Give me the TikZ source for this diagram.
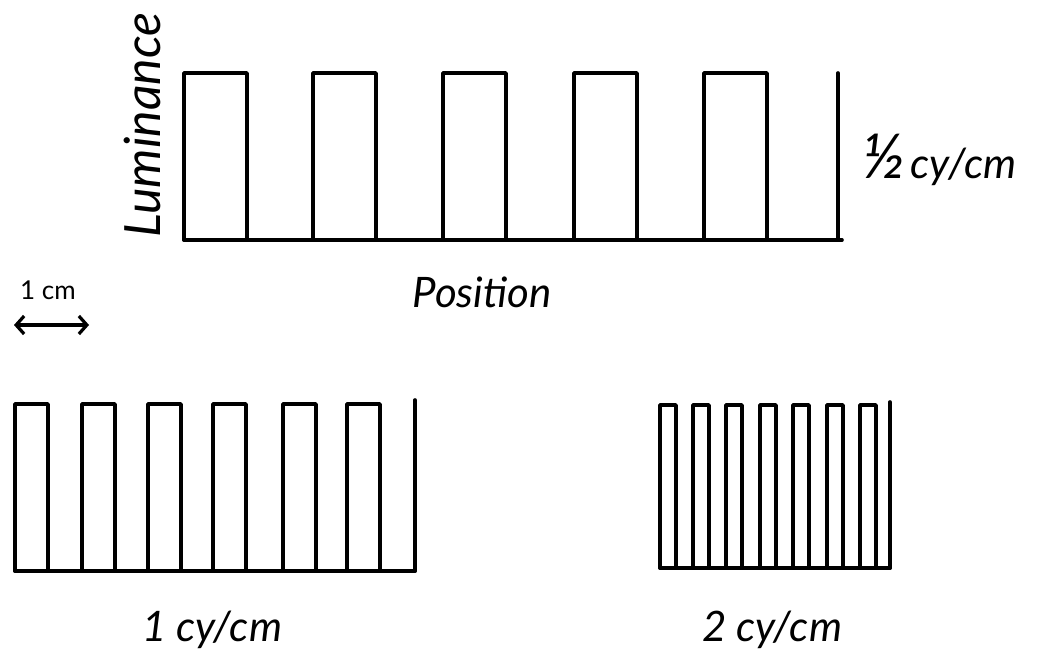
\documentclass[tikz,border=0pt]{standalone}
\usepackage{fontspec}
\newfontfamily\handfont{Lato}
\usetikzlibrary{arrows.meta}
\begin{document}
\begin{tikzpicture}[x=1pt,y=-1pt,
  wave/.style={line width=3.6pt,line join=round,line cap=round},
  hand/.style={font=\fontsize{42}{46}\selectfont\handfont\itshape,inner sep=0pt},
  small/.style={font=\fontsize{26}{30}\selectfont\handfont,inner sep=0pt}]
\useasboundingbox (0,0) rectangle (1040,660);
% top grating, 1/2 cy/cm
\draw[wave] (184,240) -- (842,240);
\foreach \s in {184,313,443,574,704}
  \draw[wave] (\s,240) -- (\s,73) -- (\s+63,73) -- (\s+63,240);
\draw[wave] (838,73) -- (838,240);
% bottom-left grating, 1 cy/cm
\draw[wave] (15,571) -- (415,571);
\foreach \s in {15,82,148,213,283,347}
  \draw[wave] (\s,571) -- (\s,404) -- (\s+33,404) -- (\s+33,571);
\draw[wave] (415,400) -- (415,571);
% bottom-right grating, 2 cy/cm
\draw[wave] (660,568) -- (890,568);
\foreach \s in {660,693,726,760,793,827,860}
  \draw[wave] (\s,568) -- (\s,405) -- (\s+16,405) -- (\s+16,568);
\draw[wave] (890,402) -- (890,568);
% labels
\node[hand,font=\fontsize{50}{54}\selectfont\handfont\itshape,rotate=90] (lum) at (142,125) {Luminance};
\node[hand] (pos) at (482,292) {Position};
\node[hand,anchor=west] (half) at (862,160) {{\fontsize{62}{64}\selectfont ½}\kern6pt cy/cm};
\node[hand] (one) at (212,630) {1 cy/cm};
\node[hand] (two) at (772,630) {2 cy/cm};
\node[small] (cm) at (48,290) {1 cm};
\coordinate (aL) at (14,325);
\coordinate (aR) at (89,325);
\draw[line width=3.2pt,{Straight Barb[length=8pt,width=18pt]}-{Straight Barb[length=8pt,width=18pt]}] (aL) -- (aR);
\end{tikzpicture}
\end{document}
